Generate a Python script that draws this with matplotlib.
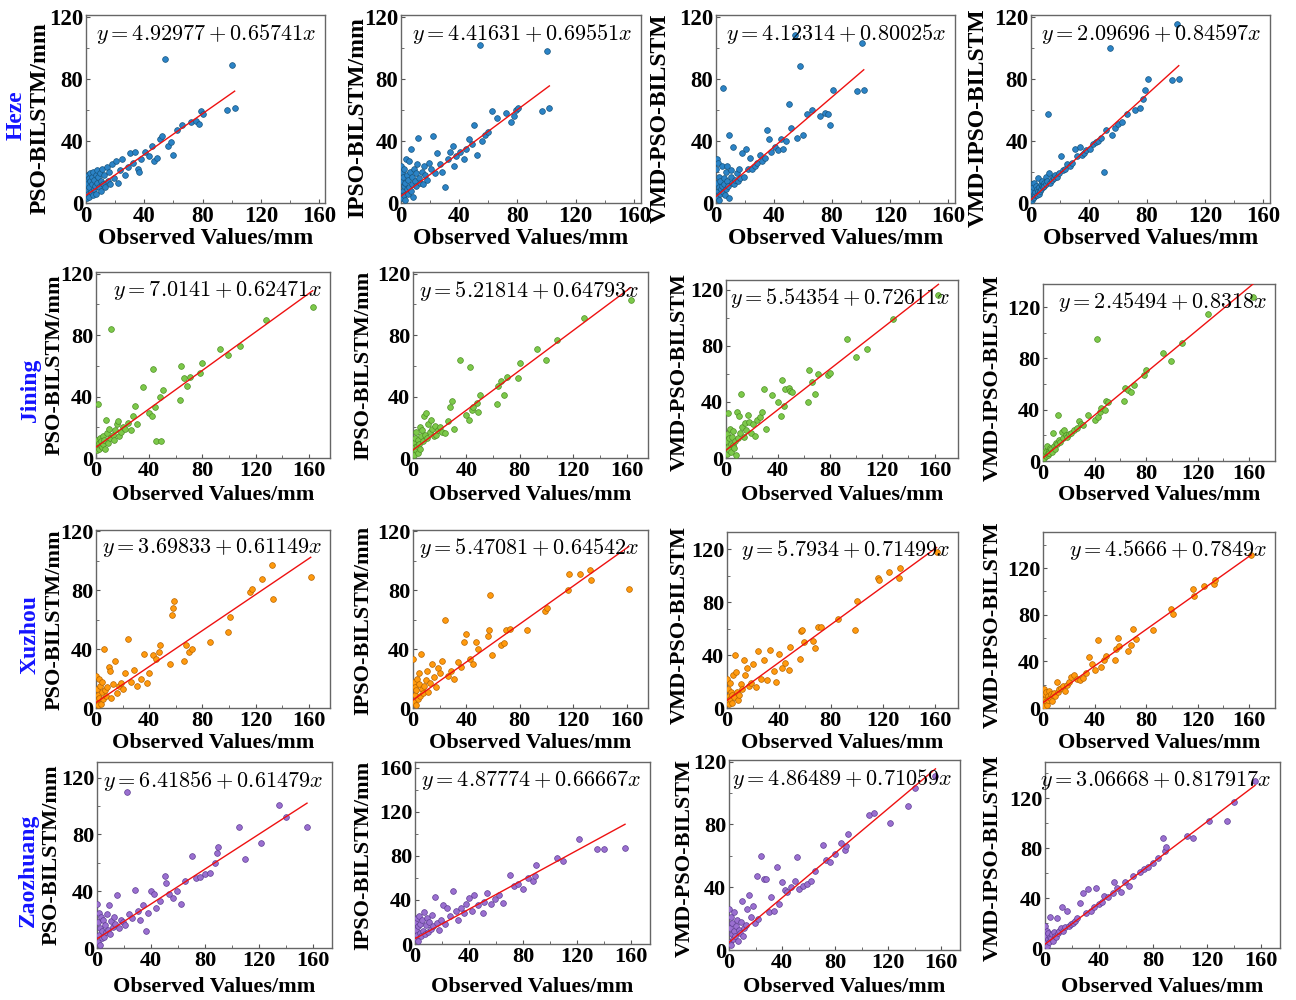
import matplotlib
matplotlib.use("Agg")
import matplotlib.pyplot as plt
from matplotlib.ticker import MultipleLocator

plt.rcParams['font.family'] = ['Liberation Serif', 'DejaVu Serif']
plt.rcParams['font.weight'] = 'bold'
plt.rcParams['mathtext.fontset'] = 'cm'

# ---------------- data ----------------
cities = ['Heze', 'Jining', 'Xuzhou', 'Zaozhuang']
model_labels = ['PSO-BILSTM/mm', 'IPSO-BILSTM/mm', 'VMD-PSO-BILSTM', 'VMD-IPSO-BILSTM']
xlabel_text = 'Observed Values/mm'
xticks = [0, 40, 80, 120, 160]

# Heze
heze_obs = [0.3, 0.5, 0.8, 1.0, 1.2, 1.6, 1.8, 2.1, 2.4, 2.7, 3.0, 3.2, 3.8, 4.2, 4.5,
            5.0, 5.5, 5.8, 6.2, 6.6, 7.0, 7.4, 7.8, 8.5, 9.0, 9.3, 10.1, 10.5, 11.0, 12.0,
            12.5, 13.0, 14.2, 15.3, 16.0, 16.5, 17.8, 19.0, 20.5, 22.0, 23.5, 25.0, 26.8, 28.5, 30.2,
            32.0, 33.8, 35.5, 36.5, 38.0, 40.5, 43.0, 45.0, 46.5, 48.5, 50.5, 52.0, 54.5, 56.0, 58.0,
            60.0, 62.5, 66.0, 72.0, 75.5, 77.5, 79.0, 80.5, 97.0, 100.5, 102.0]
heze_pso = [8, 15, 3, 12, 18, 6, 16, 10, 4, 14, 19, 7, 12, 17, 5, 20, 9, 15, 11, 18,
            6, 21, 13, 17, 10, 19, 8, 14, 22, 12, 18, 10, 23, 14, 20, 12, 25, 16, 27, 13,
            21, 28, 18, 23, 32, 26, 33, 22, 20, 28, 33, 30, 37, 27, 29, 41, 43, 93, 37, 39,
            31, 47, 50, 52, 53, 51, 59, 57, 60, 89, 61]
heze_ipso = [24, 3, 14, 20, 8, 17, 5, 11, 22, 2, 13, 28, 9, 18, 6, 15, 27, 10, 20, 8,
             35, 12, 17, 4, 22, 14, 19, 11, 25, 42, 16, 13, 20, 12, 24, 18, 15, 26, 22, 43,
             19, 32, 25, 20, 10, 28, 33, 37, 24, 30, 33, 28, 35, 41, 38, 50, 31, 102, 40, 44,
             46, 59, 55, 58, 52, 56, 60, 61, 59, 98, 61]
heze_vmd_pso = [22, 28, 4, 13, 8, 26, 2, 10, 17, 6, 14, 9, 24, 11, 74, 7, 16, 12, 5, 20,
                9, 24, 14, 11, 3, 44, 17, 21, 13, 36, 12, 15, 19, 14, 22, 16, 32, 17, 35, 22,
                29, 22, 24, 26, 31, 27, 29, 47, 41, 33, 36, 34, 41, 35, 40, 64, 48, 108, 42, 88,
                44, 57, 60, 56, 58, 57, 50, 73, 72, 103, 73]
heze_vmd_ipso = [5, 12, 2, 8, 3, 10, 4, 6, 13, 5, 7, 11, 5, 9, 8, 16, 6, 10, 8, 12,
                 9, 14, 11, 10, 13, 11, 17, 12, 14, 57, 19, 13, 15, 17, 16, 18, 17, 19, 30, 21,
                 22, 25, 24, 26, 35, 30, 36, 31, 32, 34, 35, 38, 39, 40, 42, 20, 47, 100, 44, 48,
                 51, 52, 57, 60, 61, 67, 73, 80, 79, 115, 80]

# Jining
jining_obs = [0.3, 0.6, 1.0, 1.4, 1.8, 2.2, 2.6, 3.0, 3.5, 4.0, 4.5, 5.0, 5.6, 6.2, 6.8,
              7.5, 8.2, 9.0, 9.8, 10.6, 11.5, 12.5, 13.5, 14.5, 15.5, 16.5, 17.5, 19.0, 20.5, 22.0,
              24.0, 26.0, 28.0, 29.5, 31.0, 35.0, 40.0, 42.0, 43.0, 44.5, 45.0, 48.0, 49.0, 50.5, 63.0,
              64.0, 66.0, 68.5, 70.5, 78.5, 80.0, 93.0, 99.5, 108.0, 128.0, 163.0]
jining_pso = [9, 5, 12, 7, 35, 10, 6, 13, 8, 11, 7, 14, 9, 12, 6,
              25, 16, 10, 19, 13, 84, 15, 12, 18, 22, 24, 14, 17, 20, 19,
              23, 18, 27, 34, 22, 46, 29, 27, 58, 33, 11, 40, 11, 44, 38,
              60, 52, 47, 53, 55, 62, 71, 67, 73, 90, 98]
jining_ipso = [4, 10, 2, 7, 13, 5, 17, 8, 3, 12, 9, 20, 6, 14, 18,
               11, 27, 15, 29, 13, 22, 17, 25, 19, 14, 21, 15, 18, 20, 17,
               16, 24, 33, 37, 19, 64, 28, 25, 59, 31, 33, 36, 30, 41, 35,
               47, 50, 41, 53, 52, 62, 71, 64, 77, 91, 103]
jining_vmd_pso = [12, 3, 17, 8, 32, 6, 14, 21, 10, 4, 15, 9, 19, 7, 12,
                  2, 33, 14, 30, 18, 46, 22, 15, 25, 20, 31, 26, 18, 24, 16,
                  27, 29, 33, 49, 21, 45, 40, 30, 56, 37, 49, 50, 48, 47, 40,
                  63, 54, 46, 60, 59, 61, 85, 72, 78, 99, 116]
jining_vmd_ipso = [3, 6, 2, 5, 8, 4, 7, 12, 5, 6, 8, 6, 10, 9, 7,
                   22, 12, 9, 14, 13, 36, 16, 15, 23, 18, 24, 20, 19, 21, 22,
                   24, 26, 31, 29, 28, 36, 32, 95, 34, 38, 41, 40, 47, 46, 47,
                   57, 55, 54, 59, 67, 71, 84, 78, 92, 115, 128]

# Xuzhou
xuzhou_obs = [0.2, 0.5, 0.9, 1.3, 1.7, 2.1, 2.6, 3.1, 3.6, 4.2, 4.8, 5.4, 6.0, 6.8, 7.6,
              8.5, 9.5, 10.5, 11.5, 12.8, 14.0, 15.5, 17.0, 18.5, 20.0, 22.0, 24.0, 26.0, 28.5, 31.0,
              33.5, 36.0, 38.0, 40.0, 42.5, 45.0, 47.5, 48.5, 56.0, 57.0, 58.0, 59.0, 66.0, 68.0, 70.0,
              72.5, 85.5, 99.0, 100.5, 116.0, 117.0, 125.0, 132.5, 133.5, 161.5]
xuzhou_pso = [22, 5, 13, 2, 9, 20, 7, 15, 3, 11, 18, 6, 40, 12, 8,
              14, 28, 25, 7, 16, 32, 10, 15, 17, 13, 24, 47, 18, 26, 15,
              20, 37, 17, 24, 36, 33, 38, 43, 30, 63, 68, 73, 32, 43, 38,
              40, 45, 52, 62, 79, 81, 88, 97, 74, 89]
xuzhou_ipso = [33, 4, 18, 9, 14, 2, 12, 20, 6, 16, 24, 8, 37, 13, 10,
               15, 19, 25, 11, 17, 30, 21, 14, 27, 24, 32, 60, 22, 25, 20,
               31, 28, 45, 50, 33, 30, 45, 40, 49, 53, 77, 36, 43, 44, 53,
               54, 53, 66, 68, 80, 91, 91, 94, 87, 81]
xuzhou_vmd_pso = [22, 5, 14, 3, 9, 19, 7, 12, 4, 10, 25, 8, 40, 27, 12,
                  6, 10, 18, 14, 36, 25, 30, 17, 19, 33, 16, 43, 22, 36, 21,
                  44, 28, 20, 41, 30, 34, 29, 46, 37, 58, 59, 50, 51, 45, 61,
                  61, 67, 59, 81, 98, 97, 103, 98, 106, 118]
xuzhou_vmd_ipso = [4, 16, 2, 8, 12, 6, 14, 3, 10, 7, 15, 9, 12, 6, 11,
                   13, 10, 22, 14, 16, 17, 19, 15, 20, 22, 27, 28, 25, 24, 26,
                   30, 44, 38, 33, 58, 35, 41, 45, 41, 51, 60, 53, 49, 54, 68,
                   59, 67, 85, 81, 102, 96, 105, 106, 110, 131]

# Zaozhuang
zaozhuang_obs = [0.2, 0.5, 0.8, 1.2, 1.6, 2.0, 2.5, 3.0, 3.5, 4.0, 4.6, 5.2, 5.8, 6.5, 7.2,
                 8.0, 8.8, 9.6, 10.5, 11.5, 12.5, 13.5, 15.0, 16.5, 18.0, 19.5, 21.0, 22.0, 24.0, 26.0,
                 28.0, 30.0, 32.0, 34.0, 36.0, 38.0, 40.0, 42.0, 44.0, 47.0, 50.0, 51.0, 53.0, 56.0, 59.0,
                 62.0, 65.0, 70.5, 73.0, 76.0, 80.0, 84.0, 87.0, 88.5, 89.5, 105.5, 109.5, 121.5, 134.5, 140.0,
                 155.5]
zaozhuang_pso = [31, 4, 18, 9, 25, 2, 14, 22, 7, 12, 20, 8, 16, 11, 24,
                 13, 30, 10, 19, 15, 22, 17, 37, 14, 20, 18, 16, 110, 24, 21,
                 41, 26, 20, 30, 12, 25, 40, 38, 28, 33, 51, 46, 38, 35, 40,
                 31, 47, 65, 49, 50, 52, 53, 60, 67, 71, 85, 63, 74, 101, 92,
                 85]
zaozhuang_ipso = [20, 5, 13, 24, 8, 16, 3, 25, 10, 18, 7, 22, 12, 29, 9,
                  17, 24, 11, 20, 14, 26, 16, 43, 19, 13, 22, 35, 18, 33, 25,
                  48, 30, 22, 33, 28, 36, 42, 30, 44, 35, 28, 38, 46, 36, 41,
                  44, 37, 63, 53, 54, 50, 60, 57, 62, 72, 78, 75, 95, 86, 86,
                  87]
zaozhuang_vmd_pso = [26, 5, 14, 21, 3, 10, 17, 7, 12, 24, 9, 15, 19, 6, 13,
                     11, 18, 31, 9, 14, 16, 26, 35, 21, 28, 17, 47, 20, 60, 45,
                     45, 24, 34, 25, 53, 29, 43, 38, 37, 40, 44, 59, 39, 41, 42,
                     44, 50, 67, 57, 56, 61, 68, 64, 66, 74, 86, 87, 81, 92, 103,
                     111]
zaozhuang_vmd_ipso = [18, 4, 10, 2, 14, 7, 12, 5, 9, 25, 8, 11, 6, 13, 10,
                      9, 24, 12, 14, 16, 33, 14, 17, 30, 18, 19, 20, 22, 24, 36,
                      44, 28, 47, 30, 33, 48, 35, 37, 42, 41, 44, 53, 48, 45, 53,
                      50, 58, 61, 63, 65, 68, 72, 88, 78, 81, 90, 88, 102, 102, 117,
                      134]

observed = [heze_obs, jining_obs, xuzhou_obs, zaozhuang_obs]
predicted = [
    [heze_pso, heze_ipso, heze_vmd_pso, heze_vmd_ipso],
    [jining_pso, jining_ipso, jining_vmd_pso, jining_vmd_ipso],
    [xuzhou_pso, xuzhou_ipso, xuzhou_vmd_pso, xuzhou_vmd_ipso],
    [zaozhuang_pso, zaozhuang_ipso, zaozhuang_vmd_pso, zaozhuang_vmd_ipso],
]

# fitted regression coefficients (intercept, slope)
heze_fit = [(4.92977, 0.65741), (4.41631, 0.69551), (4.12314, 0.80025), (2.09696, 0.84597)]
jining_fit = [(7.0141, 0.62471), (5.21814, 0.64793), (5.54354, 0.72611), (2.45494, 0.8318)]
xuzhou_fit = [(3.69833, 0.61149), (5.47081, 0.64542), (5.7934, 0.71499), (4.5666, 0.7849)]
zaozhuang_fit = [(6.41856, 0.61479), (4.87774, 0.66667), (4.86489, 0.71059), (3.06668, 0.817917)]
fits = [heze_fit, jining_fit, xuzhou_fit, zaozhuang_fit]

# ---------------- style / layout ----------------
point_colors = ['#2b83c6', '#7cc94a', '#ff9a0e', '#9a6fd0']
edge_colors = ['#17557f', '#4f8f25', '#b86500', '#5f3e94']
city_color = '#1414ff'

W, H = 1296, 1000
# (left, right, top, bottom) in pixels, x max, y max
boxes = [
    [(86, 325, 15, 203, 164, 121), (401, 641, 15, 203, 165, 121),
     (716, 955, 15, 203, 165, 121), (1031, 1270, 15, 203, 165, 121)],
    [(96, 330, 272, 458, 176, 121), (413, 648, 272, 458, 176, 121),
     (726, 958, 280, 458, 178, 127), (1043, 1275, 284, 461, 180, 138)],
    [(96, 330, 530, 708, 176, 121), (413, 648, 530, 708, 176, 121),
     (727, 958, 532, 708, 178, 133), (1043, 1275, 532, 708, 180, 151)],
    [(97, 332, 762, 948, 174, 131), (415, 650, 762, 944, 174, 165),
     (729, 960, 760, 950, 174, 121), (1045, 1280, 762, 948, 174, 149)],
]
ylabel_px = [[40, 358, 660, 978], [55, 363, 680, 993], [55, 363, 680, 993], [52, 363, 685, 993]]
ylabel_cy = [[118, 118, 118, 118], [365, 365, 372, 378], [620, 620, 625, 625], [855, 855, 858, 858]]
xlabel_py = [238, 495, 743, 987]
city_pos = [(16, 115), (30, 390), (30, 635), (28, 870)]
tick_fs = [16.5, 16, 16, 16]
lab_fs = [17, 16, 16, 16]

fig = plt.figure(figsize=(W / 100, H / 100), dpi=100)

for r in range(4):
    xs = observed[r]
    for c in range(4):
        left, right, top, bottom, xmax, ymax = boxes[r][c]
        ax = fig.add_axes([left / W, 1 - bottom / H, (right - left) / W, (bottom - top) / H])
        ys = predicted[r][c]
        ax.scatter(xs, ys, s=17, color=point_colors[r], edgecolors=edge_colors[r],
                   linewidths=0.5, zorder=3)
        a, b = fits[r][c]
        x0, x1 = 0, max(xs)
        ax.plot([x0, x1], [a + b * x0, a + b * x1], color='#ee1111', lw=1.0, zorder=4)
        ax.set_xlim(0, xmax)
        ax.set_ylim(0, ymax)
        ax.set_xticks(xticks)
        ytk = [0, 40, 80, 120] if ymax < 160 else [0, 40, 80, 120, 160]
        ax.set_yticks(ytk)
        ax.xaxis.set_minor_locator(MultipleLocator(20))
        ax.yaxis.set_minor_locator(MultipleLocator(20))
        ax.tick_params(which='major', direction='in', length=3, width=0.8,
                       labelsize=tick_fs[r], pad=2, color='#555555')
        ax.tick_params(which='minor', direction='in', length=2, width=0.6, color='#555555')
        for lbl in ax.get_xticklabels() + ax.get_yticklabels():
            lbl.set_fontweight('bold')
        for sp in ax.spines.values():
            sp.set_color('#666666')
            sp.set_linewidth(1.0)
        ax.text(0.965, 0.90, r'$y = %s + %s x$' % (repr(a), repr(b)),
                transform=ax.transAxes, ha='right', va='center', fontsize=16, zorder=5)
        ax.set_xlabel(xlabel_text, fontsize=lab_fs[r], fontweight='bold')
        ax.xaxis.label.set_va('center')
        ax.xaxis.set_label_coords(0.5, (bottom - xlabel_py[r]) / (bottom - top))
        ax.set_ylabel(model_labels[c], fontsize=lab_fs[r], fontweight='bold')
        ax.yaxis.label.set_va('center')
        ax.yaxis.set_label_coords((ylabel_px[r][c] - left) / (right - left),
                                  (bottom - ylabel_cy[r][c]) / (bottom - top))

    cx, cy = city_pos[r]
    fig.text(cx / W, 1 - cy / H, cities[r], rotation=90, ha='center', va='center',
             color=city_color, fontsize=17, fontweight='bold')

fig.savefig('out.png', dpi=100)
